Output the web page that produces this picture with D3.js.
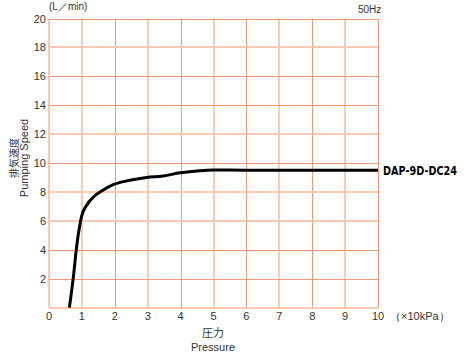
<!DOCTYPE html>
<html>
<head>
<meta charset="utf-8">
<script src="https://cdn.jsdelivr.net/npm/d3@7"></script>
<style>
  body { margin: 0; background: #fff; }
  text { font-family: "Liberation Sans", Arial, sans-serif; fill: #333; }
</style>
</head>
<body>
<script>
// pumping speed curve
var pressure = [0.62, 0.74, 0.84, 0.99, 1.15, 1.35, 1.65, 1.95, 2.46, 2.97, 3.47, 3.98, 4.5, 4.99, 6, 7, 8, 9, 10];
var speed    = [0,    2.1,  4.2,  6.3,  7.1,  7.65, 8.13, 8.5,  8.8,  9.0,  9.1,  9.32, 9.45, 9.52, 9.5, 9.5, 9.5, 9.5, 9.5];
var xTicks = [0, 1, 2, 3, 4, 5, 6, 7, 8, 9, 10];
var yTicks = [2, 4, 6, 8, 10, 12, 14, 16, 18, 20];
var seriesName = "DAP-9D-DC24";

var width = 469, height = 356;
var svg = d3.select("body").append("svg")
  .attr("width", width)
  .attr("height", height);

var x = d3.scaleLinear().domain([0, 10]).range([49, 378]);
var y = d3.scaleLinear().domain([0, 20]).range([307.5, 18.5]);
var dark = "#f39b78", pale = "#f8c9b3";
// the scanned grid has some lines softer and wider than others
var paleX = [0, 1, 3, 5, 7, 9];
var paleY = [0, 6, 8, 12, 18];

function gpos(v, isPale) {
  return isPale ? Math.round(v) : Math.round(v) + 0.5;
}

svg.append("g").selectAll("line")
  .data(xTicks)
  .enter().append("line")
  .attr("x1", function(d) { return gpos(x(d), paleX.indexOf(d) >= 0); })
  .attr("x2", function(d) { return gpos(x(d), paleX.indexOf(d) >= 0); })
  .attr("y1", y(0))
  .attr("y2", y(20))
  .attr("stroke", function(d) { return paleX.indexOf(d) >= 0 ? pale : dark; })
  .attr("stroke-width", function(d) { return paleX.indexOf(d) >= 0 ? 2 : 1; });

svg.append("g").selectAll("line")
  .data([0].concat(yTicks))
  .enter().append("line")
  .attr("x1", x(0))
  .attr("x2", x(10))
  .attr("y1", function(d) { return gpos(y(d), paleY.indexOf(d) >= 0); })
  .attr("y2", function(d) { return gpos(y(d), paleY.indexOf(d) >= 0); })
  .attr("stroke", function(d) { return paleY.indexOf(d) >= 0 ? pale : dark; })
  .attr("stroke-width", function(d) { return paleY.indexOf(d) >= 0 ? 2 : 1; });

// tick labels
svg.append("g").selectAll("text")
  .data(yTicks)
  .enter().append("text")
  .attr("x", 46)
  .attr("y", function(d) { return y(d) + 4; })
  .attr("text-anchor", "end")
  .style("font-size", "11px")
  .text(function(d) { return d; });

svg.append("g").selectAll("text")
  .data(xTicks)
  .enter().append("text")
  .attr("x", function(d) { return x(d); })
  .attr("y", 320)
  .attr("text-anchor", "middle")
  .style("font-size", "11px")
  .text(function(d) { return d; });

svg.append("text").attr("x", 390).attr("y", 320)
  .style("font-size", "11px").text("（×10kPa）");
svg.append("text").attr("x", 49).attr("y", 10)
  .style("font-size", "10px").text("(L／min)");
svg.append("text").attr("x", 358).attr("y", 13)
  .style("font-size", "10px").text("50Hz");

// axis titles
svg.append("text").attr("x", 213).attr("y", 337)
  .attr("text-anchor", "middle")
  .style("font-family", "'Noto Sans CJK JP', sans-serif")
  .style("font-size", "11px").text("圧力");
svg.append("text").attr("x", 213).attr("y", 351)
  .attr("text-anchor", "middle")
  .style("font-size", "11px").text("Pressure");

var yt = svg.append("g").attr("transform", "translate(0,158) rotate(-90)");
yt.append("text").attr("x", 0).attr("y", 18)
  .attr("text-anchor", "middle")
  .style("font-family", "'Noto Sans CJK JP', sans-serif")
  .style("font-size", "10px").text("排気速度");
yt.append("text").attr("x", 0).attr("y", 28)
  .attr("text-anchor", "middle")
  .style("font-size", "11px").text("Pumping Speed");

// curve
var line = d3.line()
  .x(function(d) { return x(d[0]); })
  .y(function(d) { return y(d[1]); })
  .curve(d3.curveMonotoneX);

svg.append("path")
  .datum(d3.zip(pressure, speed))
  .attr("d", line)
  .attr("fill", "none")
  .attr("stroke", "#000")
  .attr("stroke-width", 3);

svg.append("text")
  .attr("x", 383)
  .attr("y", y(speed[speed.length - 1]) + 4.5)
  .attr("textLength", 74)
  .attr("lengthAdjust", "spacingAndGlyphs")
  .style("font-family", "'DejaVu Sans Condensed', 'DejaVu Sans', sans-serif")
  .style("font-weight", "bold")
  .style("font-size", "12px")
  .style("fill", "#000")
  .text(seriesName);
</script>
</body>
</html>
